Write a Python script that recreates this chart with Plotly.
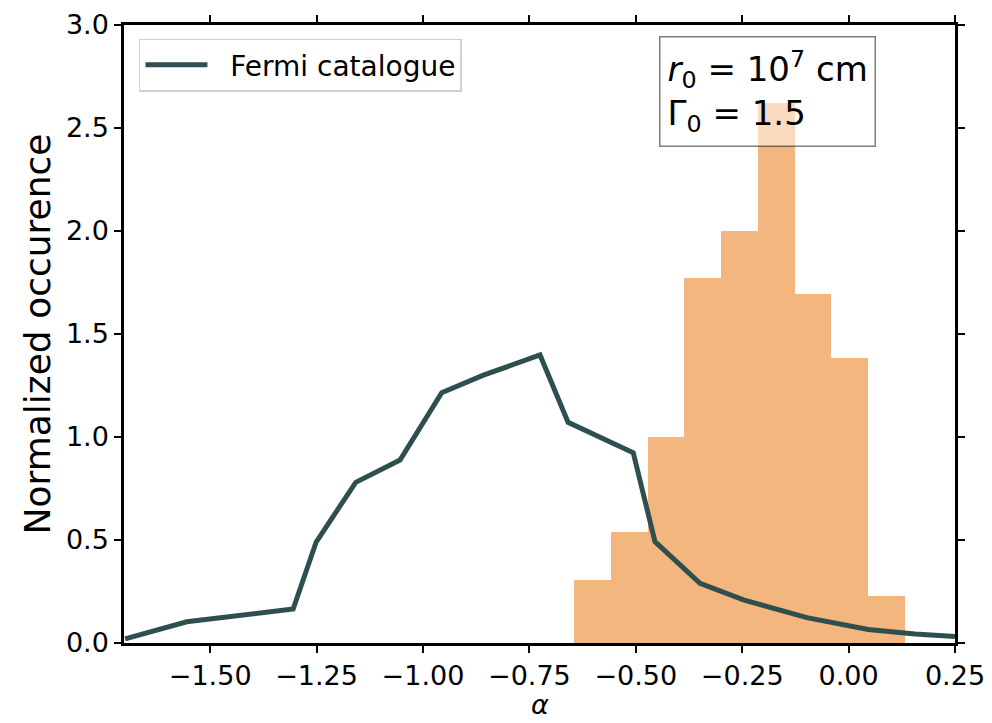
import plotly.graph_objects as go

# Fermi catalogue distribution of the low-energy index alpha
fermi_alpha = [-1.70, -1.555, -1.305, -1.251, -1.158, -1.054, -0.956, -0.858,
               -0.725, -0.659, -0.506, -0.455, -0.349, -0.247, -0.098, 0.046,
               0.156, 0.25]
fermi_density = [0.02, 0.103, 0.165, 0.49, 0.78, 0.888, 1.215, 1.30,
                 1.398, 1.071, 0.924, 0.492, 0.29, 0.209, 0.123, 0.066,
                 0.044, 0.031]

# Simulated histogram (normalized), equal-width bins
bin_start = -0.645
bin_width = 0.0864
sim_density = [0.306, 0.539, 1.0, 1.773, 2.001, 2.623, 1.696, 1.385, 0.228]

bin_centers = [bin_start + (i + 0.5) * bin_width for i in range(len(sim_density))]

x_ticks = [-1.50, -1.25, -1.00, -0.75, -0.50, -0.25, 0.00, 0.25]
y_ticks = [0.0, 0.5, 1.0, 1.5, 2.0, 2.5, 3.0]

FONT = "DejaVu Sans"
NBSP = "\u00a0"

fig = go.Figure()

fig.add_trace(go.Bar(
    x=bin_centers,
    y=sim_density,
    width=bin_width,
    marker=dict(color="rgb(244,182,127)", line=dict(width=0)),
    showlegend=False,
    hoverinfo="skip",
))

fig.add_trace(go.Scatter(
    x=fermi_alpha,
    y=fermi_density,
    mode="lines",
    name=NBSP * 2 + "Fermi catalogue",
    line=dict(color="#2F4F4F", width=5),
))

axis_common = dict(
    showline=True,
    linecolor="black",
    linewidth=2.5,
    mirror="ticks",
    ticks="outside",
    ticklen=7,
    tickwidth=2,
    tickcolor="black",
    showgrid=False,
    zeroline=False,
    automargin=False,
    tickfont=dict(family=FONT, size=27, color="black"),
)

fig.update_layout(
    width=992,
    height=723,
    margin=dict(l=124, r=37, t=25, b=80),
    paper_bgcolor="white",
    plot_bgcolor="white",
    bargap=0,
    font=dict(family=FONT, color="black"),
    xaxis=dict(
        range=[-1.7025, 0.25],
        tickvals=x_ticks,
        tickformat=".2f",
        **axis_common,
    ),
    yaxis=dict(
        range=[0, 3.0],
        tickvals=y_ticks,
        tickformat=".1f",
        title=dict(text="Normalized occurence", font=dict(family=FONT, size=36), standoff=5),
        **axis_common,
    ),
    legend=dict(
        x=0.018,
        y=0.978,
        xanchor="left",
        yanchor="top",
        bgcolor="rgba(255,255,255,0.8)",
        bordercolor="#d0d0d0",
        borderwidth=1.5,
        font=dict(family=FONT, size=28),
        itemwidth=62,
    ),
    annotations=[
        # x-axis label
        dict(
            x=0.5,
            y=-0.128,
            xref="paper",
            yref="paper",
            xanchor="center",
            yanchor="bottom",
            showarrow=False,
            text="<i>α</i>",
            font=dict(family=FONT, size=27, color="black"),
        ),
        # parameter box
        dict(
            x=0.774,
            y=0.893,
            xref="paper",
            yref="paper",
            xanchor="center",
            yanchor="middle",
            align="left",
            showarrow=False,
            text="<i>r</i><sub>0</sub> = 10<sup>7</sup> cm<br>Γ<sub>0</sub> = 1.5",
            font=dict(family=FONT, size=34, color="black"),
            bgcolor="rgba(255,255,255,0.5)",
            bordercolor="rgba(0,0,0,0.5)",
            borderwidth=1.5,
            borderpad=7,
        ),
    ],
)

fig.write_html("out.html")
